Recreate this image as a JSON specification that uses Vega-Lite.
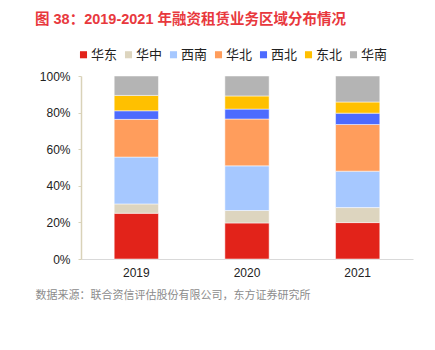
{
  "$schema": "https://vega.github.io/schema/vega-lite/v6.json",
  "autosize": "none",
  "width": 332,
  "height": 183,
  "padding": {"left": 81, "top": 76, "right": 22, "bottom": 91},
  "background": "white",
  "title": {
    "text": "图 38：2019-2021 年融资租赁业务区域分布情况",
    "anchor": "start",
    "frame": "group",
    "dx": -46,
    "offset": 21,
    "font": "Liberation Sans, Noto Sans CJK SC",
    "fontSize": 14.5,
    "fontWeight": "bold",
    "color": "#E8383D"
  },
  "data": {
    "values": [
      {"year": "2019", "region": "华东", "order": 1, "share": 25.0},
      {"year": "2019", "region": "华中", "order": 2, "share": 5.1},
      {"year": "2019", "region": "西南", "order": 3, "share": 25.6},
      {"year": "2019", "region": "华北", "order": 4, "share": 20.6},
      {"year": "2019", "region": "西北", "order": 5, "share": 4.7},
      {"year": "2019", "region": "东北", "order": 6, "share": 8.4},
      {"year": "2019", "region": "华南", "order": 7, "share": 10.6},
      {"year": "2020", "region": "华东", "order": 1, "share": 19.7},
      {"year": "2020", "region": "华中", "order": 2, "share": 6.8},
      {"year": "2020", "region": "西南", "order": 3, "share": 24.4},
      {"year": "2020", "region": "华北", "order": 4, "share": 25.6},
      {"year": "2020", "region": "西北", "order": 5, "share": 5.4},
      {"year": "2020", "region": "东北", "order": 6, "share": 7.2},
      {"year": "2020", "region": "华南", "order": 7, "share": 10.9},
      {"year": "2021", "region": "华东", "order": 1, "share": 19.9},
      {"year": "2021", "region": "华中", "order": 2, "share": 8.2},
      {"year": "2021", "region": "西南", "order": 3, "share": 19.9},
      {"year": "2021", "region": "华北", "order": 4, "share": 25.5},
      {"year": "2021", "region": "西北", "order": 5, "share": 6.2},
      {"year": "2021", "region": "东北", "order": 6, "share": 6.1},
      {"year": "2021", "region": "华南", "order": 7, "share": 14.2}
    ]
  },
  "mark": {"type": "bar", "stroke": "white", "strokeWidth": 0.5},
  "encoding": {
    "x": {
      "field": "year",
      "type": "nominal",
      "scale": {"paddingInner": 0.6, "paddingOuter": 0.3},
      "axis": {
        "title": "数据来源：联合资信评估股份有限公司，东方证券研究所",
        "titleAnchor": "start",
        "titleAlign": "left",
        "titleX": -46,
        "titleY": 30,
        "titleFont": "Noto Sans CJK SC",
        "titleFontSize": 11,
        "titleFontWeight": "normal",
        "titleColor": "#8C8C8C",
        "labelAngle": 0,
        "labelFont": "Liberation Sans",
        "labelFontSize": 12,
        "labelColor": "#222222",
        "labelPadding": 8,
        "ticks": false,
        "domainColor": "#D9D9D9",
        "domainWidth": 1
      }
    },
    "y": {
      "field": "share",
      "type": "quantitative",
      "stack": "normalize",
      "scale": {"domain": [0, 1]},
      "axis": {
        "title": null,
        "format": ".0%",
        "values": [0, 0.2, 0.4, 0.6, 0.8, 1],
        "grid": false,
        "labelFont": "Liberation Sans",
        "labelFontSize": 12,
        "labelColor": "#222222",
        "labelPadding": 8,
        "tickSize": 3,
        "tickColor": "#D9D2B8",
        "domainColor": "#D9D2B8",
        "domainWidth": 1.5
      }
    },
    "color": {
      "field": "region",
      "type": "nominal",
      "sort": ["华东", "华中", "西南", "华北", "西北", "东北", "华南"],
      "scale": {
        "domain": ["华东", "华中", "西南", "华北", "西北", "东北", "华南"],
        "range": ["#E2231A", "#DDD5BF", "#A6C8FF", "#FF9D5C", "#4D6BFE", "#FFC000", "#B4B4B4"]
      },
      "legend": {
        "title": null,
        "orient": "none",
        "direction": "horizontal",
        "legendX": -4,
        "legendY": -28,
        "symbolType": "square",
        "symbolSize": 50,
        "symbolStrokeWidth": 0,
        "labelFont": "Noto Sans CJK SC",
        "labelFontSize": 13,
        "labelColor": "#222222",
        "labelOffset": 1,
        "columnPadding": 4
      }
    },
    "order": {"field": "order", "type": "quantitative"}
  },
  "config": {"view": {"stroke": null}}
}
